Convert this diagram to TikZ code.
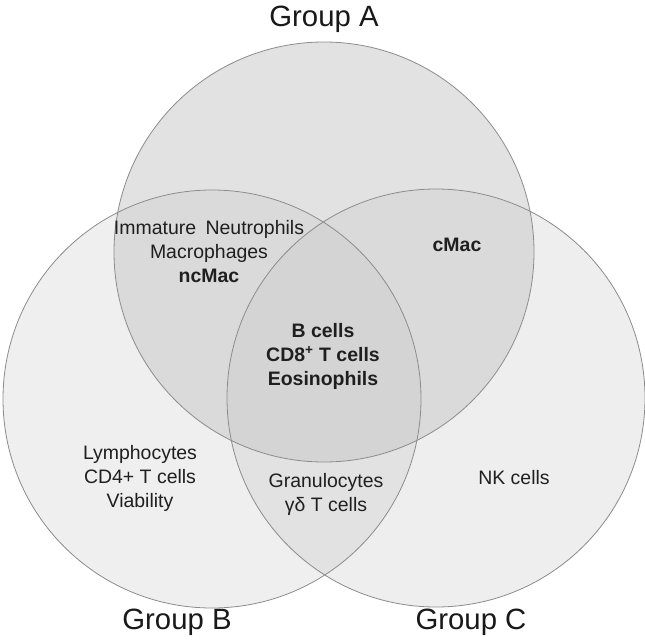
\documentclass[tikz,border=0pt]{standalone}
\usepackage{fontspec}
\setmainfont{Liberation Sans}
\begin{document}
\begin{tikzpicture}[x=0.75pt,y=-0.75pt,
  lbl/.style={align=center,text=black!88,font=\fontsize{14.6}{18}\selectfont,inner sep=0pt},
  blbl/.style={lbl,font=\fontsize{14.6}{18}\selectfont\bfseries},
  grp/.style={text=black!90,font=\fontsize{22}{26}\selectfont,inner sep=0pt},
  ring/.style={draw=black!45,line width=0.6pt}]
\useasboundingbox (0,0) rectangle (645,639);
\def\cA{(324,252) circle (210)}
\def\cB{(212,399) circle (209)}
\def\cC{(436,398) circle (209)}
% single regions
\fill[white] (0,0) rectangle (645,639);
\fill[gray!0!white,fill={rgb,255:red,226;green,226;blue,226}] \cA;
\fill[fill={rgb,255:red,239;green,239;blue,239}] \cB;
\fill[fill={rgb,255:red,238;green,238;blue,238}] \cC;
% A and B
\begin{scope}\clip \cA; \fill[fill={rgb,255:red,218;green,218;blue,218}] \cB; \end{scope}
% A and C
\begin{scope}\clip \cA; \fill[fill={rgb,255:red,218;green,218;blue,218}] \cC; \end{scope}
% B and C
\begin{scope}\clip \cB; \fill[fill={rgb,255:red,226;green,226;blue,226}] \cC; \end{scope}
% A, B and C
\begin{scope}\clip \cA; \clip \cB; \fill[fill={rgb,255:red,212;green,212;blue,212}] \cC; \end{scope}
% outlines
\draw[ring] \cA;
\draw[ring] \cB;
\draw[ring] \cC;
% labels
\node[grp] (ga) at (324,19) {Group A};
\node[grp] (gb) at (177,622) {Group B};
\node[grp] (gc) at (471,622) {Group C};
\node[lbl] (ab) at (209,252) {Immature\hspace{3pt} Neutrophils\\Macrophages\\\textbf{ncMac}};
\node[blbl] (ac) at (457,245) {cMac};
\node[blbl] (abc) at (323,356) {B cells\\CD8\textsuperscript{+} T cells\\Eosinophils};
\node[lbl] (b) at (140,478) {Lymphocytes\\CD4+ T cells\\Viability};
\node[lbl] (bc) at (326,494) {Granulocytes\\γδ T cells};
\node[lbl] (c) at (514,478) {NK cells};
\end{tikzpicture}
\end{document}
